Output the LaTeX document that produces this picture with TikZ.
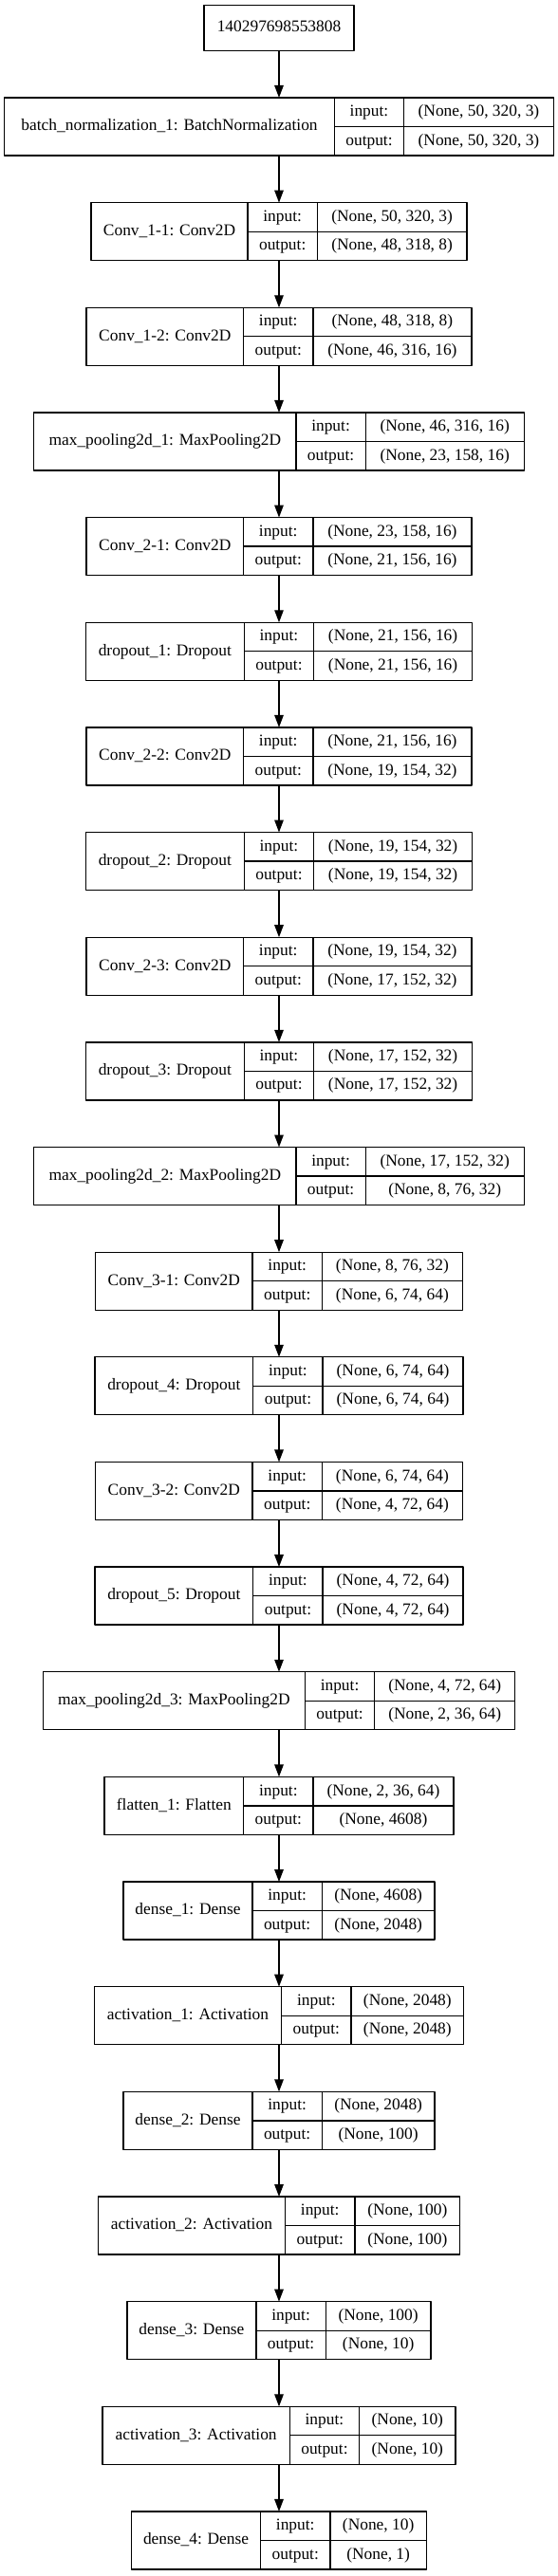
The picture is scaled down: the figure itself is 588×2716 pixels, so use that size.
\documentclass[tikz,border=0pt]{standalone}
\usepackage{fontspec}
\setmainfont{Liberation Serif}
\usetikzlibrary{arrows.meta}
\newcommand\cellfont{\fontsize{17.4pt}{21pt}\selectfont}
\tikzset{
  cell/.style={draw, line width=1.3pt, inner sep=0pt, outer sep=0pt, font=\cellfont, text height=12.5pt, text depth=3.8pt},
  whole/.style={inner sep=0pt, outer sep=0pt, minimum height=61pt},
  arr/.style={line width=1.3pt, -{Triangle[length=13pt,width=9.5pt]}},
}
\def\iow{73.3}
% one layer: name, centre y, label, label width, input shape, output shape, shape width
\newcommand\layer[7]{%
  \pgfmathsetmacro\wt{#4+\iow+#7}%
  \node[whole, minimum width=\wt pt] (#1) at (294,#2) {};
  \node[cell, minimum width=#4pt, minimum height=61pt, anchor=north west] (#1-name) at (#1.north west) {#3};
  \node[cell, minimum width=\iow pt, minimum height=30.5pt, anchor=north west] (#1-in) at (#1-name.north east) {input:};
  \node[cell, minimum width=\iow pt, minimum height=30.5pt, anchor=north west] (#1-out) at (#1-in.south west) {output:};
  \node[cell, minimum width=#7pt, minimum height=30.5pt, anchor=north west] (#1-ins) at (#1-in.north east) {#5};
  \node[cell, minimum width=#7pt, minimum height=30.5pt, anchor=north west] (#1-outs) at (#1-out.north east) {#6};
}
\begin{document}
\begin{tikzpicture}[x=1pt, y=-1pt, line join=round]
  \useasboundingbox (0,0) rectangle (588,2716);
  \node[cell, minimum width=158pt, minimum height=47.6pt] (L0) at (294,29.5) {140297698553808};
  \foreach \lab/\lw/\inp/\outp/\sw [count=\k] in {
    {batch\_normalization\_1: BatchNormalization}/347.6/{(None, 50, 320, 3)}/{(None, 50, 320, 3)}/157.6,
    {Conv\_1-1: Conv2D}/165/{(None, 50, 320, 3)}/{(None, 48, 318, 8)}/157.6,
    {Conv\_1-2: Conv2D}/165.5/{(None, 48, 318, 8)}/{(None, 46, 316, 16)}/167,
    {max\_pooling2d\_1: MaxPooling2D}/276.1/{(None, 46, 316, 16)}/{(None, 23, 158, 16)}/167,
    {Conv\_2-1: Conv2D}/165.5/{(None, 23, 158, 16)}/{(None, 21, 156, 16)}/167,
    {dropout\_1: Dropout}/166.9/{(None, 21, 156, 16)}/{(None, 21, 156, 16)}/167,
    {Conv\_2-2: Conv2D}/165.5/{(None, 21, 156, 16)}/{(None, 19, 154, 32)}/167,
    {dropout\_2: Dropout}/166.9/{(None, 19, 154, 32)}/{(None, 19, 154, 32)}/167,
    {Conv\_2-3: Conv2D}/165.5/{(None, 19, 154, 32)}/{(None, 17, 152, 32)}/167,
    {dropout\_3: Dropout}/166.9/{(None, 17, 152, 32)}/{(None, 17, 152, 32)}/167,
    {max\_pooling2d\_2: MaxPooling2D}/276.1/{(None, 17, 152, 32)}/{(None, 8, 76, 32)}/167,
    {Conv\_3-1: Conv2D}/165.5/{(None, 8, 76, 32)}/{(None, 6, 74, 64)}/148,
    {dropout\_4: Dropout}/166.9/{(None, 6, 74, 64)}/{(None, 6, 74, 64)}/148,
    {Conv\_3-2: Conv2D}/165.5/{(None, 6, 74, 64)}/{(None, 4, 72, 64)}/148,
    {dropout\_5: Dropout}/166.9/{(None, 4, 72, 64)}/{(None, 4, 72, 64)}/148,
    {max\_pooling2d\_3: MaxPooling2D}/276.1/{(None, 4, 72, 64)}/{(None, 2, 36, 64)}/148,
    {flatten\_1: Flatten}/146.7/{(None, 2, 36, 64)}/{(None, 4608)}/148,
    {dense\_1: Dense}/136/{(None, 4608)}/{(None, 2048)}/118.7,
    {activation\_1: Activation}/197.4/{(None, 2048)}/{(None, 2048)}/118.7,
    {dense\_2: Dense}/136/{(None, 2048)}/{(None, 100)}/118.7,
    {activation\_2: Activation}/197.4/{(None, 100)}/{(None, 100)}/110.9,
    {dense\_3: Dense}/136/{(None, 100)}/{(None, 10)}/110.9,
    {activation\_3: Activation}/197.4/{(None, 10)}/{(None, 10)}/101.5,
    {dense\_4: Dense}/136/{(None, 10)}/{(None, 1)}/101.5}{
    \pgfmathsetmacro\yy{133.5+(\k-1)*110.65}
    \layer{L\k}{\yy}{\lab}{\lw}{\inp}{\outp}{\sw}
    \pgfmathtruncatemacro\pk{\k-1}
    \draw[arr] (L\pk.south) -- (L\k.north);
  }
\end{tikzpicture}
\end{document}
